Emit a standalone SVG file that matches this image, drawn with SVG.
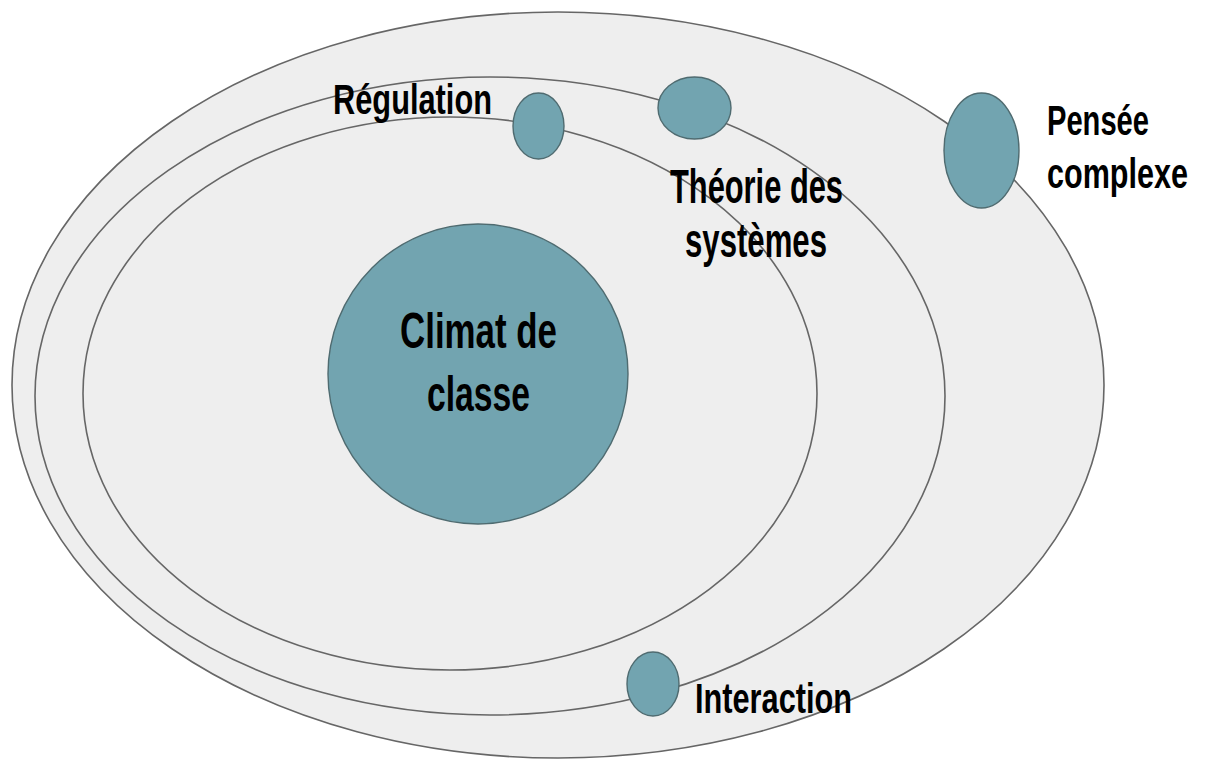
<svg xmlns="http://www.w3.org/2000/svg" width="1212" height="762" viewBox="0 0 1212 762">
<style>
.ring{fill:#eeeeee;stroke:#666666;stroke-width:1.6}
.dot{fill:#72a4b0;stroke:#4f6b70;stroke-width:1.4}
.lbl{font-family:"Liberation Sans",Arial,sans-serif;font-weight:bold;fill:#000000}
</style>
<rect width="1212" height="762" fill="#ffffff"/>
<g id="rings">
<ellipse id="ring-outer" class="ring" cx="558" cy="385" rx="546" ry="373"/>
<ellipse id="ring-middle" class="ring" cx="490" cy="396" rx="455" ry="319"/>
<ellipse id="ring-inner" class="ring" cx="450" cy="393.5" rx="367" ry="276.5"/>
</g>
<g id="connectors"></g>
<g id="climat">
<circle class="dot" cx="478" cy="374" r="150"/>
<text class="lbl" x="400" y="348" font-size="50" textLength="157" lengthAdjust="spacingAndGlyphs">Climat de</text>
<text class="lbl" x="427" y="411" font-size="50" textLength="103" lengthAdjust="spacingAndGlyphs">classe</text>
</g>
<g id="regulation">
<ellipse class="dot" cx="538.5" cy="126" rx="25.5" ry="33"/>
<text class="lbl" x="333" y="114" font-size="42" textLength="159" lengthAdjust="spacingAndGlyphs">Régulation</text>
</g>
<g id="theorie">
<ellipse class="dot" cx="694.5" cy="108" rx="36.5" ry="31"/>
<text class="lbl" x="670" y="203" font-size="48" textLength="173" lengthAdjust="spacingAndGlyphs">Théorie des</text>
<text class="lbl" x="685" y="257" font-size="48" textLength="142" lengthAdjust="spacingAndGlyphs">systèmes</text>
</g>
<g id="pensee">
<ellipse class="dot" cx="981.5" cy="150.5" rx="37.5" ry="57.5"/>
<text class="lbl" x="1047" y="135" font-size="42" textLength="102" lengthAdjust="spacingAndGlyphs">Pensée</text>
<text class="lbl" x="1047" y="188" font-size="42" textLength="141" lengthAdjust="spacingAndGlyphs">complexe</text>
</g>
<g id="interaction">
<ellipse class="dot" cx="653" cy="684" rx="26" ry="32"/>
<text class="lbl" x="695" y="713" font-size="42" textLength="157" lengthAdjust="spacingAndGlyphs">Interaction</text>
</g>
</svg>
